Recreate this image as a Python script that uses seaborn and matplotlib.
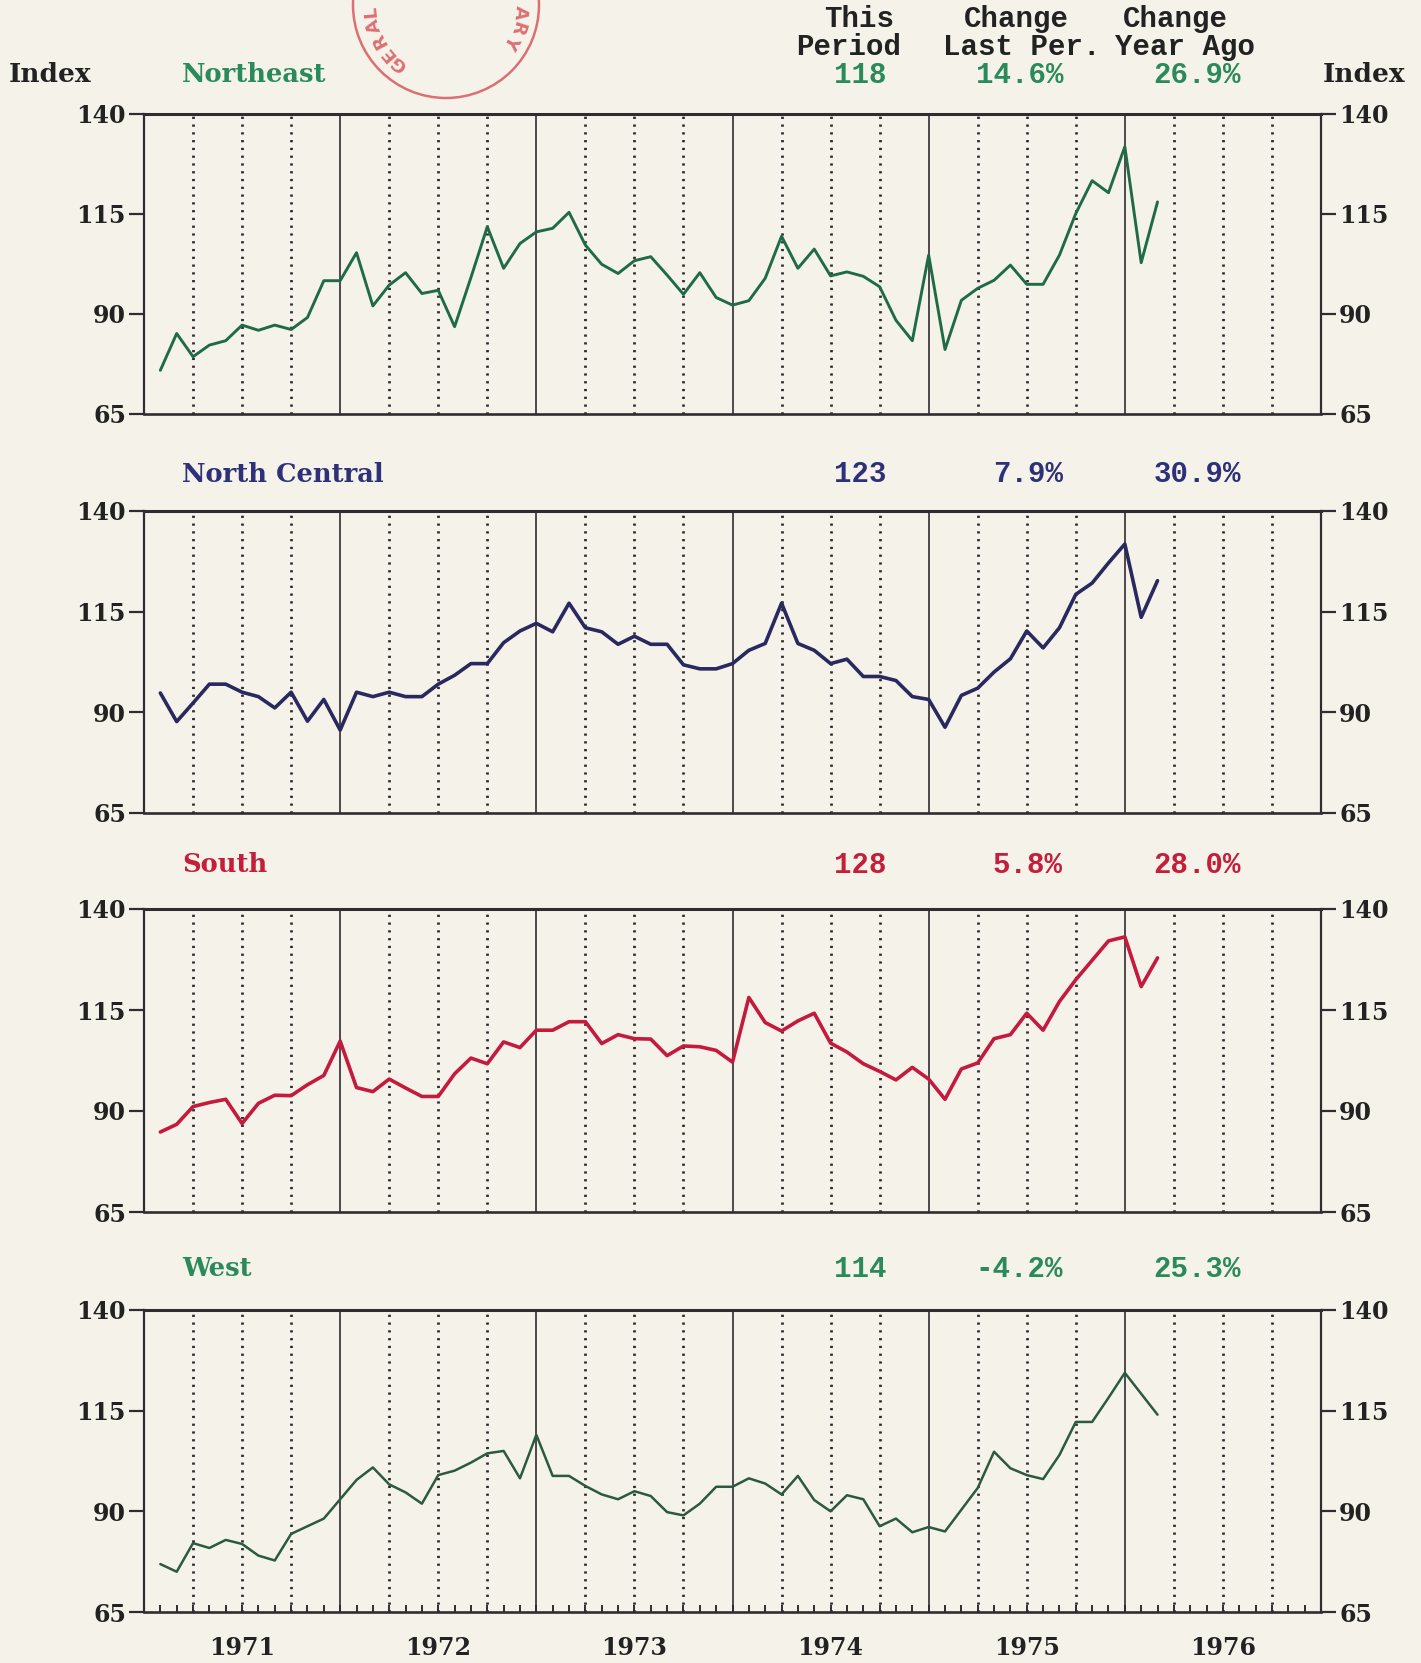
import numpy as np
import pandas as pd
import matplotlib
matplotlib.use("Agg")
import matplotlib.pyplot as plt
from matplotlib.ticker import MultipleLocator, FixedLocator
from matplotlib.patches import Ellipse
import matplotlib.transforms as mtransforms
import seaborn as sns

# ---------------- data (monthly index, Feb 1971 .. Mar 1976) ----------------
month_index = list(range(1, 63))
northeast = [75.8, 85.0, 79.2, 82.1, 83.2, 87.1, 85.8, 87.1, 86.0, 89.0,
             98.2, 98.2, 105.2, 91.9, 97.1, 100.2, 95.0, 95.8, 86.7, 99.0,
             111.7, 101.3, 107.5, 110.4, 111.3, 115.3, 107.1, 102.3, 100.0, 103.2,
             104.2, 99.6, 94.8, 100.2, 94.0, 92.1, 93.2, 98.8, 109.3, 101.3,
             106.1, 99.4, 100.4, 99.3, 96.7, 88.3, 83.2, 104.6, 81.0, 93.3,
             96.3, 98.3, 102.1, 97.3, 97.3, 104.6, 115.0, 123.2, 120.2, 131.7,
             102.7, 117.9]
north_central = [94.8, 87.7, 92.3, 97.0, 97.0, 95.0, 93.9, 91.1, 95.0, 87.8,
                 93.2, 85.6, 95.0, 93.9, 95.0, 93.9, 93.9, 97.0, 99.2, 102.1,
                 102.1, 107.3, 110.2, 112.1, 110.0, 117.1, 111.0, 110.0, 106.9, 108.9,
                 106.9, 106.9, 101.8, 100.8, 100.8, 102.1, 105.4, 107.1, 117.1, 107.1,
                 105.4, 102.1, 103.2, 98.9, 98.9, 97.9, 93.9, 93.2, 86.3, 94.2,
                 96.0, 100.0, 103.3, 110.2, 106.0, 111.0, 119.3, 122.1, 127.1, 131.8,
                 113.6, 122.7]
south = [84.8, 86.7, 91.1, 92.1, 92.9, 86.9, 91.9, 93.9, 93.8, 96.5,
         98.8, 107.3, 95.8, 94.8, 97.9, 95.7, 93.6, 93.6, 99.2, 103.1,
         101.7, 107.1, 105.7, 110.0, 110.0, 112.1, 112.1, 106.7, 108.9, 107.9,
         107.8, 103.7, 106.1, 105.9, 105.0, 102.1, 118.1, 111.9, 109.8, 112.3,
         114.2, 106.8, 104.6, 101.7, 99.8, 97.7, 100.8, 97.9, 92.9, 100.4,
         101.9, 107.9, 108.9, 114.2, 110.0, 117.1, 122.5, 127.3, 132.1, 133.1,
         120.8, 127.9]
west = [76.9, 75.0, 82.1, 80.9, 82.9, 81.9, 79.0, 77.8, 84.4, 86.3,
        88.2, 93.0, 97.8, 100.9, 96.7, 94.7, 91.9, 99.0, 100.1, 102.1,
        104.4, 105.0, 98.2, 109.0, 98.8, 98.8, 96.3, 94.2, 93.0, 95.0,
        93.8, 89.8, 89.0, 91.9, 96.1, 96.1, 98.2, 96.9, 94.2, 98.8,
        92.8, 90.0, 94.0, 93.0, 86.3, 88.2, 84.8, 86.1, 85.0, 90.4,
        95.8, 104.8, 100.7, 99.0, 98.0, 104.0, 112.2, 112.2, 118.2, 124.4,
        119.2, 114.0]

regions = ["Northeast", "North Central", "South", "West"]
this_period = ["118", "123", "128", "114"]
change_last = ["14.6%", "7.9%", "5.8%", "-4.2%"]
change_year = ["26.9%", "30.9%", "28.0%", "25.3%"]
year_labels = ["1971", "1972", "1973", "1974", "1975", "1976"]
y_ticks = [65, 90, 115, 140]

# ---------------- styling ----------------
BG = "#f5f3e9"
AXC = "#312c31"
line_colors = ["#1f6b47", "#29285f", "#c41a3e", "#2c5a3f"]
text_colors = ["#2b8a5b", "#2e3079", "#c41e3a", "#2b8a5b"]
line_widths = [2.1, 2.6, 2.6, 1.8]

sns.set_theme(style="ticks")
plt.rcParams["font.family"] = ["DejaVu Serif"]
plt.rcParams["axes.linewidth"] = 1.6

W, H = 1421, 1663
fig = plt.figure(figsize=(W / 100, H / 100), dpi=100, facecolor=BG)


def fx(px):
    return px / W


def fy(py):
    return 1 - py / H


panel_px = [(113.5, 413.5), (511, 813), (909, 1212), (1310, 1612)]
title_px = [75, 474, 865, 1269]
x_left, x_right = 144, 1321

df = pd.DataFrame({"t": [1971 + m / 12 for m in month_index],
                   "Northeast": northeast, "North Central": north_central,
                   "South": south, "West": west})

serif_bold = dict(family="DejaVu Serif", weight="bold")
mono = dict(family="Liberation Mono", weight="bold")

for i, name in enumerate(regions):
    top, bot = panel_px[i]
    ax = fig.add_axes([fx(x_left), fy(bot), fx(x_right - x_left), (bot - top) / H])
    ax.set_facecolor(BG)
    sns.lineplot(data=df, x="t", y=name, ax=ax, color=line_colors[i],
                 lw=line_widths[i], zorder=5)
    ax.set_xlabel("")
    ax.set_ylabel("")
    ax.set_xlim(1971, 1977)
    ax.set_ylim(65, 140)
    ax.yaxis.set_major_locator(FixedLocator(y_ticks))
    ax.tick_params(axis="y", which="both", left=True, right=True,
                   labelleft=True, labelright=True, direction="out",
                   length=11, width=1.6, pad=2, color=AXC,
                   labelsize=17, labelcolor="#222222")
    for lab in ax.get_yticklabels():
        lab.set_fontweight("bold")
        lab.set_family("DejaVu Serif")
    ax.xaxis.set_major_locator(MultipleLocator(1))
    ax.xaxis.set_minor_locator(MultipleLocator(0.25))
    ax.tick_params(axis="x", which="both", length=0, labelbottom=False)
    ax.grid(which="major", axis="x", color=AXC, lw=1.2, ls="-")
    ax.grid(which="minor", axis="x", color="#2f2a30", lw=2.0, ls=(0, (0.8, 2.0)))
    ax.grid(which="major", axis="y", visible=False)
    for s in ["left", "right"]:
        ax.spines[s].set_color(AXC)
        ax.spines[s].set_linewidth(1.6)
    ax.spines["top"].set_color(AXC)
    ax.spines["top"].set_linewidth(2.2)
    ax.spines["bottom"].set_color(AXC)
    ax.spines["bottom"].set_linewidth(1.9)
    ax.spines["top"].set_visible(True)
    ax.spines["right"].set_visible(True)

    if i == len(regions) - 1:
        sec = ax.secondary_xaxis("bottom")
        sec.xaxis.set_major_locator(MultipleLocator(1 / 12))
        sec.tick_params(direction="in", length=5, width=1.4, color=AXC,
                        labelbottom=False)
        sec.spines["bottom"].set_visible(False)
        trans = mtransforms.blended_transform_factory(ax.transData, ax.transAxes)
        for j, yl in enumerate(year_labels):
            ax.text(1971 + j + 0.5, -0.118, yl, transform=trans, ha="center",
                    va="center", fontsize=17, color="#222222", **serif_bold)

    # region title and statistics
    ty = fy(title_px[i])
    fig.text(fx(182), ty, name, color=text_colors[i], fontsize=18.5,
             ha="left", va="center", **serif_bold)
    fig.text(fx(887), ty, this_period[i], color=text_colors[i], fontsize=21,
             ha="right", va="center", **mono)
    fig.text(fx(1063), ty, change_last[i], color=text_colors[i], fontsize=21,
             ha="right", va="center", **mono)
    fig.text(fx(1241), ty, change_year[i], color=text_colors[i], fontsize=21,
             ha="right", va="center", **mono)

# header
hdr = "#222222"
for txt, cx, cy in [("This", 859, 19), ("Period", 849, 47),
                    ("Change", 1016, 19), ("Last Per.", 1022, 47),
                    ("Change", 1175, 19), ("Year Ago", 1185, 47)]:
    fig.text(fx(cx), fy(cy), txt, color=hdr, fontsize=21, ha="center",
             va="center", **mono)
fig.text(fx(9), fy(75), "Index", color=hdr, fontsize=19, ha="left",
         va="center", **serif_bold)
fig.text(fx(1405), fy(75), "Index", color=hdr, fontsize=19, ha="right",
         va="center", **serif_bold)

# library stamp (scan artefact)
STAMP = "#dc6f74"
cxp, cyp, rp = 446, 5, 93
fig.add_artist(Ellipse((fx(cxp), fy(cyp)), 2 * rp / W, 2 * rp / H,
                       transform=fig.transFigure, fill=False, ec=STAMP, lw=1.8))
for letters, angles in [("GERAL", [231, 220, 208, 196, 185]),
                        ("ARY", [-6, -18, -29])]:
    for ch, a in zip(letters, angles):
        r = 75
        px = cxp + r * np.cos(np.radians(a))
        py = cyp - r * np.sin(np.radians(a))
        fig.text(fx(px), fy(py), ch, color=STAMP, fontsize=13, weight="bold",
                 family="DejaVu Sans", ha="center", va="center",
                 rotation=a - 90)

fig.savefig("out.png", dpi=100, facecolor=BG)
